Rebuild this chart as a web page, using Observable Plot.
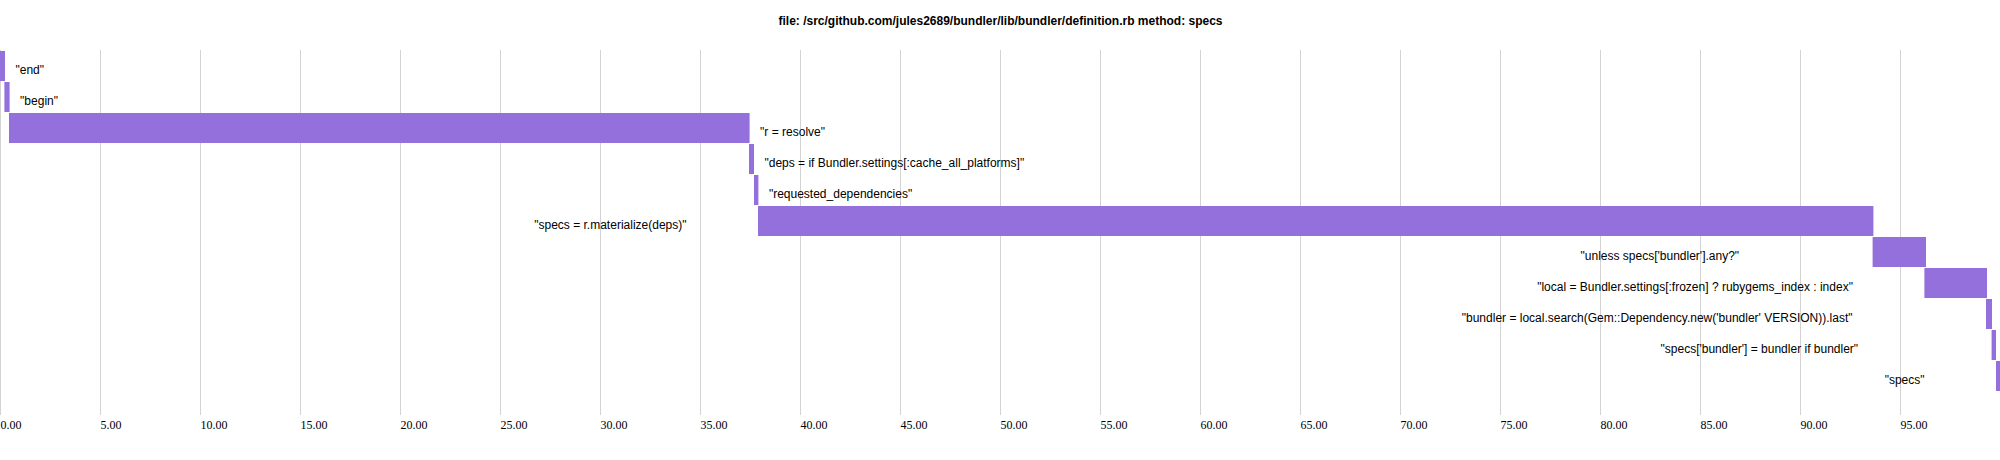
<!DOCTYPE html>
<html>
<head>
<meta charset="utf-8">
<script src="https://cdn.jsdelivr.net/npm/d3@7"></script>
<script src="https://cdn.jsdelivr.net/npm/@observablehq/plot@0.6"></script>
<style>
  html, body { margin: 0; padding: 0; background: #fff; }
</style>
</head>
<body>
<div id="chart"></div>
<script>
const title = "file: /src/github.com/jules2689/bundler/lib/bundler/definition.rb method: specs";

const lines = [
  "\"end\"",
  "\"begin\"",
  "\"r = resolve\"",
  "\"deps = if Bundler.settings[:cache_all_platforms]\"",
  "\"requested_dependencies\"",
  "\"specs = r.materialize(deps)\"",
  "\"unless specs['bundler'].any?\"",
  "\"local = Bundler.settings[:frozen] ? rubygems_index : index\"",
  "\"bundler = local.search(Gem::Dependency.new('bundler' VERSION)).last\"",
  "\"specs['bundler'] = bundler if bundler\"",
  "\"specs\""
];
const starts = [0.00, 0.22, 0.45, 37.45, 37.70, 37.90, 93.63, 96.22, 99.30, 99.58, 99.80];
const ends   = [0.25, 0.48, 37.48, 37.70, 37.92, 93.67, 96.30, 99.35, 99.60, 99.80, 100.00];
const xTicks = [0, 5, 10, 15, 20, 25, 30, 35, 40, 45, 50, 55, 60, 65, 70, 75, 80, 85, 90, 95];

const rows = lines.map((label, i) => ({label, start: starts[i], end: ends[i]}));
const mid = 50;
const leftLabels = rows.filter(d => d.end <= mid);
const rightPlain = rows.filter(d => d.end > mid && !d.label.includes("'"));
const rightQuoted = rows.filter(d => d.end > mid && d.label.includes("'"));

const sans = "'Liberation Sans', Arial, Helvetica, sans-serif";
const serif = "'Liberation Serif', 'Times New Roman', serif";

const chart = Plot.plot({
  width: 2000,
  height: 460,
  marginLeft: 0,
  marginRight: 0,
  marginTop: 50,
  marginBottom: 45,
  style: {fontFamily: sans, fontSize: "12px", color: "#000", background: "#fff", overflow: "visible"},
  x: {domain: [0, 100], axis: null},
  y: {domain: lines, range: [50, 392], paddingInner: 0.035, paddingOuter: 0, axis: null},
  marks: [
    Plot.ruleX(xTicks.concat([100]), {stroke: "#d3d3d3", strokeWidth: 1, strokeOpacity: 1}),
    Plot.barX(rows, {x1: "start", x2: "end", y: "label", fill: "#9370db"}),
    Plot.text(leftLabels, {x: "end", y: "label", text: "label", textAnchor: "start", dx: 10, dy: 4, fill: "#000", fontSize: 12, fontFamily: sans}),
    Plot.text(rightPlain, {x: "start", y: "label", text: "label", textAnchor: "end", dx: -72, dy: 4, fill: "#000", fontSize: 12, fontFamily: sans}),
    Plot.text(rightQuoted, {x: "start", y: "label", text: "label", textAnchor: "end", dx: -134, dy: 4, fill: "#000", fontSize: 12, fontFamily: sans}),
    Plot.axisX(xTicks, {anchor: "bottom", tickSize: 0, tickPadding: 5, textAnchor: "start", tickFormat: d3.format(".2f"), label: null, fontSize: 12, fontFamily: serif, fill: "#000"}),
    Plot.text([title], {frameAnchor: "top", dy: -34, fontWeight: "bold", fontSize: 12, fontFamily: sans, fill: "#000"})
  ]
});
document.getElementById("chart").appendChild(chart);
</script>
</body>
</html>
